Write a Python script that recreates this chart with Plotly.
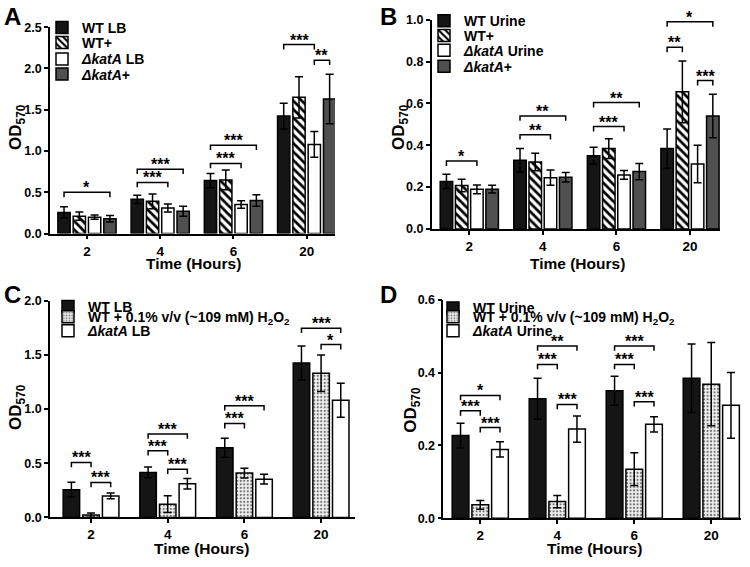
import plotly.graph_objects as go

W, H = 750, 567
FONT = "Arial, Liberation Sans, Helvetica, sans-serif"

# ---------------- data ----------------
hours = ["2", "4", "6", "20"]

# LB medium (panels A and C)
wt_lb = [0.256, 0.415, 0.642, 1.424]
wt_lb_err = [0.068, 0.050, 0.087, 0.156]
wt_plus_lb = [0.210, 0.390, 0.650, 1.650]
wt_plus_lb_err = [0.050, 0.090, 0.120, 0.250]
katA_lb = [0.198, 0.310, 0.352, 1.080]
katA_lb_err = [0.026, 0.049, 0.045, 0.157]
katA_plus_lb = [0.180, 0.270, 0.400, 1.630]
katA_plus_lb_err = [0.040, 0.060, 0.070, 0.300]
wt_h2o2_lb = [0.021, 0.122, 0.409, 1.330]
wt_h2o2_lb_err = [0.020, 0.078, 0.045, 0.168]

# Urine (panels B and D)
wt_urine = [0.227, 0.328, 0.350, 0.384]
wt_urine_err = [0.034, 0.056, 0.040, 0.094]
wt_plus_urine = [0.207, 0.320, 0.384, 0.655]
wt_plus_urine_err = [0.030, 0.042, 0.047, 0.148]
katA_urine = [0.189, 0.245, 0.258, 0.310]
katA_urine_err = [0.021, 0.036, 0.021, 0.090]
katA_plus_urine = [0.190, 0.247, 0.274, 0.540]
katA_plus_urine_err = [0.018, 0.023, 0.039, 0.104]
wt_h2o2_urine = [0.037, 0.046, 0.135, 0.368]
wt_h2o2_urine_err = [0.012, 0.017, 0.045, 0.114]

# significance brackets: (hour index, bar i, bar j, bracket height, label)
sig_a = [(0, 0, 3, 0.50, "*"), (1, 0, 2, 0.62, "***"), (1, 0, 3, 0.78, "***"),
         (2, 0, 2, 0.85, "***"), (2, 0, 3, 1.07, "***"),
         (3, 0, 2, 2.29, "***"), (3, 2, 3, 2.10, "**")]
sig_b = [(0, 0, 2, 0.324, "*"), (1, 0, 2, 0.45, "**"), (1, 0, 3, 0.54, "**"),
         (2, 0, 2, 0.489, "***"), (2, 0, 3, 0.604, "**"),
         (3, 0, 1, 0.868, "**"), (3, 0, 3, 0.99, "*"), (3, 2, 3, 0.709, "***")]
sig_c = [(0, 0, 1, 0.507, "***"), (0, 1, 2, 0.322, "***"),
         (1, 0, 2, 0.77, "***"), (1, 0, 1, 0.615, "***"), (1, 1, 2, 0.445, "***"),
         (2, 0, 2, 1.03, "***"), (2, 0, 1, 0.866, "***"),
         (3, 0, 2, 1.745, "***"), (3, 1, 2, 1.594, "*")]
sig_d = [(0, 0, 2, 0.337, "*"), (0, 0, 1, 0.295, "***"), (0, 1, 2, 0.249, "***"),
         (1, 0, 2, 0.473, "**"), (1, 0, 1, 0.422, "***"), (1, 1, 2, 0.3125, "***"),
         (2, 0, 2, 0.473, "***"), (2, 0, 1, 0.422, "***"), (2, 1, 2, 0.32, "***")]

H2O2_NAME = "WT + 0.1% v/v (~109 mM) H<sub>2</sub>O<sub>2</sub>"
KATA = "<i>\u0394katA</i>"

# ---------------- styles ----------------
STYLE = {
    "black": dict(color="#151515"),
    "hatch": dict(color="white", pattern=dict(shape="\\", fgcolor="black", bgcolor="white",
                                               size=6, solidity=0.45, fillmode="replace")),
    "white": dict(color="white"),
    "gray": dict(color="#505050"),
    "dots": dict(color="white", pattern=dict(shape=".", fgcolor="#707070", bgcolor="#f0f0f0",
                                              size=3.5, solidity=0.3, fillmode="replace")),
}

panels = [
    dict(letter="A", series=[("WT LB", wt_lb, wt_lb_err, "black"),
                             ("WT+", wt_plus_lb, wt_plus_lb_err, "hatch"),
                             (KATA + " LB", katA_lb, katA_lb_err, "white"),
                             (KATA + "+", katA_plus_lb, katA_plus_lb_err, "gray")],
         sig=sig_a, x0=50, x1=335, ytop=20.7, ybot=232.3, ymax=2.5, dtick=0.5,
         xr=[-0.505, 3.387], pitch=0.209, barw=0.168,
         leg_x=82, leg_y=[20, 35.5, 52.2, 67.8], letter_xy=(2, 0),
         ytitle_xy=(17, 123), xtitle_xy=(193, 263)),
    dict(letter="B", series=[("WT Urine", wt_urine, wt_urine_err, "black"),
                             ("WT+", wt_plus_urine, wt_plus_urine_err, "hatch"),
                             (KATA + " Urine", katA_urine, katA_urine_err, "white"),
                             (KATA + "+", katA_plus_urine, katA_plus_urine_err, "gray")],
         sig=sig_b, x0=431.7, x1=720, ytop=13, ybot=227.5, ymax=1.0, dtick=0.2,
         xr=[-0.511, 3.408], pitch=0.207, barw=0.17,
         leg_x=464, leg_y=[13, 28.3, 43.3, 59.7], letter_xy=(378, 0),
         ytitle_xy=(400, 123), xtitle_xy=(577, 263)),
    dict(letter="C", series=[("WT LB", wt_lb, wt_lb_err, "black"),
                             (H2O2_NAME, wt_h2o2_lb, wt_h2o2_lb_err, "dots"),
                             (KATA + " LB", katA_lb, katA_lb_err, "white")],
         sig=sig_c, x0=50, x1=355, ytop=301, ybot=523.3, ymax=2.0, dtick=0.5,
         xr=[-0.535, 3.442], pitch=0.256, barw=0.215,
         leg_x=88, leg_y=[306.0, 318.0, 331.0], letter_xy=(2, 285),
         ytitle_xy=(17, 410), xtitle_xy=(202, 555)),
    dict(letter="D", series=[("WT Urine", wt_urine, wt_urine_err, "black"),
                             (H2O2_NAME, wt_h2o2_urine, wt_h2o2_urine_err, "dots"),
                             (KATA + " Urine", katA_urine, katA_urine_err, "white")],
         sig=sig_d, x0=443.3, x1=741, ytop=300, ybot=524.3, ymax=0.6, dtick=0.2,
         xr=[-0.48, 3.386], pitch=0.256, barw=0.217,
         leg_x=473, leg_y=[307.5, 318.0, 331.0], letter_xy=(378, 285),
         ytitle_xy=(412, 413), xtitle_xy=(594, 555)),
]

fig = go.Figure()
layout = dict(width=W, height=H, margin=dict(l=0, r=0, t=0, b=0),
              paper_bgcolor="white", plot_bgcolor="white", barmode="overlay",
              font=dict(family=FONT, color="black", weight="bold"))

legend_count = 0
annotations = []
shapes = []
xcats = list(range(len(hours)))

for k, p in enumerate(panels, start=1):
    xa = "x" if k == 1 else f"x{k}"
    ya = "y" if k == 1 else f"y{k}"
    n = len(p["series"])
    for i, (name, vals, errs, sty) in enumerate(p["series"]):
        legend_count += 1
        lname = "legend" if legend_count == 1 else f"legend{legend_count}"
        off = (i - (n - 1) / 2) * p["pitch"] - p["barw"] / 2
        fig.add_trace(go.Bar(
            x=xcats, y=vals, name=name, xaxis=xa, yaxis=ya,
            width=p["barw"], offset=off,
            marker=dict(**STYLE[sty], line=dict(color="black", width=1.5)),
            error_y=dict(type="data", array=errs, symmetric=True, color="black",
                         thickness=1.5, width=4),
            legend=lname, showlegend=True, hoverinfo="skip"))
        if "<sub>" in name:
            ly, yanc = p["leg_y"][i], "middle"
        else:
            # legend item centre sits ~15 px below the legend's top edge
            ly, yanc = p["leg_y"][i] - 15, "top"
        layout[lname] = dict(x=(p["leg_x"] - 40) / W, y=1 - ly / H,
                             xanchor="left", yanchor=yanc,
                             bgcolor="rgba(0,0,0,0)", borderwidth=0,
                             font=dict(size=14, family=FONT, weight="bold"))
    dom_x = [p["x0"] / W, p["x1"] / W]
    dom_y = [1 - p["ybot"] / H, 1 - p["ytop"] / H]
    axkey = "" if k == 1 else str(k)
    layout["xaxis" + axkey] = dict(
        domain=dom_x, range=p["xr"], anchor=ya, tickvals=xcats, ticktext=hours,
        showline=True, linecolor="black", linewidth=1.5, ticks="outside",
        ticklen=4, tickwidth=1.5, tickcolor="black", showgrid=False, zeroline=False,
        tickfont=dict(size=13.5, family=FONT, weight="bold"), fixedrange=True)
    layout["yaxis" + axkey] = dict(
        domain=dom_y, range=[0, p["ymax"]], anchor=xa, dtick=p["dtick"], tick0=0,
        tickformat=".1f", showline=True, linecolor="black", linewidth=1.5,
        ticks="outside", ticklen=4, tickwidth=1.5, tickcolor="black",
        showgrid=False, zeroline=False,
        tickfont=dict(size=12.5, family=FONT, weight="bold"), fixedrange=True)

    # significance brackets
    leg = 5 * p["ymax"] / (p["ybot"] - p["ytop"])
    for (cat, bi, bj, yv, lab) in p["sig"]:
        xi = cat + (bi - (n - 1) / 2) * p["pitch"]
        xj = cat + (bj - (n - 1) / 2) * p["pitch"]
        shapes.append(dict(type="path", xref=xa, yref=ya,
                           path=f"M{xi},{yv - leg} L{xi},{yv} L{xj},{yv} L{xj},{yv - leg}",
                           line=dict(color="black", width=1.5)))
        annotations.append(dict(x=(xi + xj) / 2, y=yv, xref=xa, yref=ya, text=lab,
                                showarrow=False, yanchor="bottom", yshift=-6,
                                font=dict(size=16, family=FONT, weight="bold")))

    lx, ly = p["letter_xy"]
    annotations.append(dict(x=lx / W, y=1 - ly / H, xref="paper", yref="paper",
                            text=p["letter"], showarrow=False, xanchor="left",
                            yanchor="top", yshift=6,
                            font=dict(size=24, family=FONT, weight="bold")))
    tx, ty = p["ytitle_xy"]
    annotations.append(dict(x=tx / W, y=1 - ty / H, xref="paper", yref="paper",
                            text="OD<sub>570</sub>", showarrow=False, textangle=-90,
                            xanchor="center", yanchor="middle",
                            font=dict(size=17, family=FONT, weight="bold")))
    tx, ty = p["xtitle_xy"]
    annotations.append(dict(x=tx / W, y=1 - ty / H, xref="paper", yref="paper",
                            text="Time (Hours)", showarrow=False,
                            xanchor="center", yanchor="middle",
                            font=dict(size=15.5, family=FONT, weight="bold")))

layout["annotations"] = annotations
layout["shapes"] = shapes
fig.update_layout(**layout)
fig.write_html("out.html", config={"displayModeBar": False},
               post_script="document.body.style.margin='0';document.body.style.overflow='hidden';")
